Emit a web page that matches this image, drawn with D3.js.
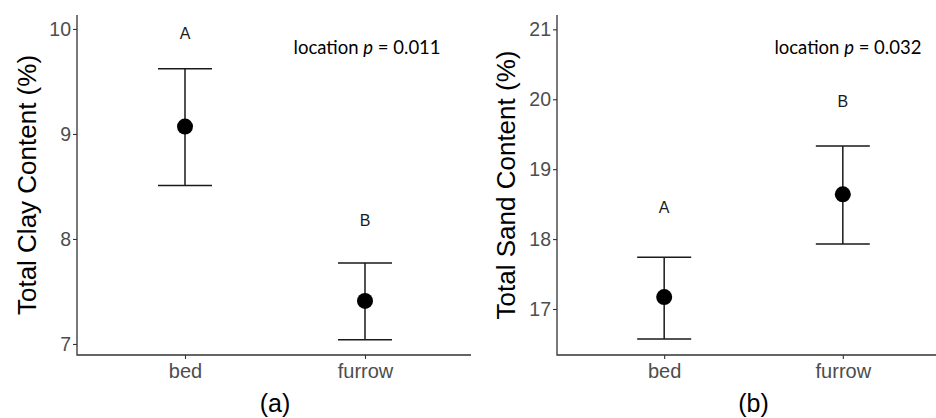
<!DOCTYPE html>
<html>
<head>
<meta charset="utf-8">
<script src="https://cdn.jsdelivr.net/npm/d3@7"></script>
<style>
  body { margin: 0; background: #fff; }
  svg { display: block; }
</style>
</head>
<body>
<div id="chart"></div>
<script>
// data
const locations = ["bed", "furrow"];

const clayMean = [9.07, 7.41];
const clayLower = [8.51, 7.04];
const clayUpper = [9.62, 7.77];
const clayLetters = ["A", "B"];
const clayLetterY = [9.955, 8.18];
const clayTicks = [7, 8, 9, 10];

const sandMean = [17.17, 18.64];
const sandLower = [16.57, 17.93];
const sandUpper = [17.74, 19.33];
const sandLetters = ["A", "B"];
const sandLetterY = [18.457, 19.966];
const sandTicks = [17, 18, 19, 20, 21];

const width = 936;
const height = 418;

const svg = d3.select("#chart").append("svg")
  .attr("width", width)
  .attr("height", height)
  .attr("viewBox", [0, 0, width, height]);

const panels = [
  {
    title: "Total Clay Content (%)", tag: "(a)", pval: "0.011",
    mean: clayMean, lower: clayLower, upper: clayUpper,
    letters: clayLetters, letterY: clayLetterY, ticks: clayTicks,
    domain: [6.895, 10.133],
    left: 77, right: 473, axisEnd: 471, titleX: 36, annot: [2.42, 9.76]
  },
  {
    title: "Total Sand Content (%)", tag: "(b)", pval: "0.032",
    mean: sandMean, lower: sandLower, upper: sandUpper,
    letters: sandLetters, letterY: sandLetterY, ticks: sandTicks,
    domain: [16.342, 21.205],
    left: 557, right: 950, axisEnd: 936, titleX: 515, annot: [2.44, 20.65]
  }
];

const plotTop = 15, plotBottom = 355;

panels.forEach(p => {
  const g = svg.append("g");

  const x = d3.scalePoint()
    .domain(locations)
    .range([p.left, p.right])
    .padding(0.6);

  const y = d3.scaleLinear()
    .domain(p.domain)
    .range([plotBottom, plotTop]);

  // numeric x for annotation placement (ggplot discrete positions 1, 2)
  const xNum = d3.scaleLinear()
    .domain([1, 2])
    .range([x(locations[0]), x(locations[1])]);

  // y axis
  const yAxis = g.append("g")
    .attr("transform", `translate(${p.left},0)`)
    .call(d3.axisLeft(y).tickValues(p.ticks).tickFormat(d3.format("d")).tickSize(4).tickPadding(2));
  yAxis.select(".domain").remove();
  yAxis.selectAll(".tick line").attr("stroke", "#333").attr("stroke-width", 1.1);
  yAxis.selectAll(".tick text")
    .attr("fill", "#4d4d4d")
    .style("font-family", "Liberation Sans, Arial, sans-serif")
    .style("font-size", "19.5px");

  // x axis
  const xAxis = g.append("g")
    .attr("transform", `translate(0,${plotBottom})`)
    .call(d3.axisBottom(x).tickSize(4).tickPadding(5));
  xAxis.select(".domain").remove();
  xAxis.selectAll(".tick line").attr("stroke", "#333").attr("stroke-width", 1.1);
  xAxis.selectAll(".tick text")
    .attr("fill", "#4d4d4d")
    .style("font-family", "Liberation Sans, Arial, sans-serif")
    .style("font-size", "20px");

  // axis lines (theme_classic)
  g.append("path")
    .attr("d", `M${p.left},${plotTop}V${plotBottom}H${p.axisEnd}`)
    .attr("fill", "none")
    .attr("stroke", "#333")
    .attr("stroke-width", 1.3);

  // error bars
  const idx = d3.range(locations.length);
  const capHalf = 27;

  g.append("g")
    .selectAll("path")
    .data(idx)
    .join("path")
    .attr("d", i => {
      const cx = x(locations[i]);
      return `M${cx - capHalf},${y(p.upper[i])}H${cx + capHalf}` +
        `M${cx},${y(p.upper[i])}V${y(p.lower[i])}` +
        `M${cx - capHalf},${y(p.lower[i])}H${cx + capHalf}`;
    })
    .attr("fill", "none")
    .attr("stroke", "#1a1a1a")
    .attr("stroke-width", 1.5);

  // means
  g.append("g")
    .selectAll("circle")
    .data(idx)
    .join("circle")
    .attr("cx", i => x(locations[i]))
    .attr("cy", i => y(p.mean[i]))
    .attr("r", 8)
    .attr("fill", "#000");

  // group letters
  g.append("g")
    .selectAll("text")
    .data(idx)
    .join("text")
    .attr("x", i => x(locations[i]))
    .attr("y", i => y(p.letterY[i]))
    .attr("dy", "0.36em")
    .attr("text-anchor", "middle")
    .attr("fill", "#1a1a1a")
    .style("font-family", "Liberation Sans, Arial, sans-serif")
    .style("font-size", "16px")
    .text(i => p.letters[i]);

  // p-value annotation
  const annot = g.append("text")
    .attr("x", xNum(p.annot[0]))
    .attr("y", y(p.annot[1]))
    .attr("text-anchor", "end")
    .attr("fill", "#000")
    .style("font-family", "Lato, 'Open Sans', sans-serif")
    .style("font-size", "18.5px");
  annot.append("tspan").text("location ");
  annot.append("tspan").style("font-style", "italic").text("p");
  annot.append("tspan").text(` = ${p.pval}`);

  // y title
  g.append("text")
    .attr("transform", `translate(${p.titleX},${(plotTop + plotBottom) / 2}) rotate(-90)`)
    .attr("text-anchor", "middle")
    .attr("fill", "#000")
    .style("font-family", "Liberation Sans, Arial, sans-serif")
    .style("font-size", "26px")
    .text(p.title);

  // panel tag
  g.append("text")
    .attr("x", (p.left + p.right) / 2)
    .attr("y", 412)
    .attr("text-anchor", "middle")
    .attr("fill", "#000")
    .style("font-family", "Liberation Sans, Arial, sans-serif")
    .style("font-size", "25px")
    .text(p.tag);
});
</script>
</body>
</html>
